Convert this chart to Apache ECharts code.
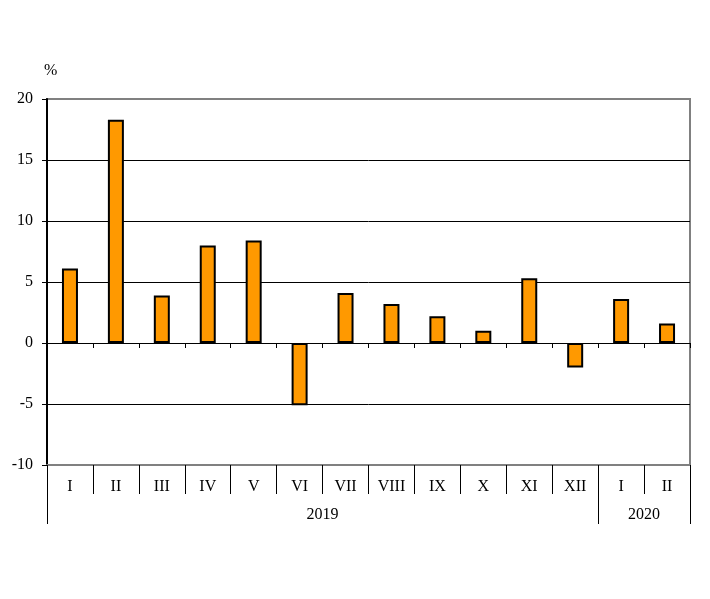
<!DOCTYPE html>
<html>
<head>
<meta charset="utf-8">
<script src="https://cdn.jsdelivr.net/npm/echarts@6/dist/echarts.min.js"></script>
<style>html,body{margin:0;padding:0;background:#fff;}#c{width:710px;height:599px;}</style>
</head>
<body>
<div id="c"></div>
<script>
var months = ['I','II','III','IV','V','VI','VII','VIII','IX','X','XI','XII','I','II'];
var values = [6.1, 18.3, 3.9, 8.0, 8.4, -5.1, 4.1, 3.2, 2.2, 1.0, 5.3, -2.0, 3.6, 1.6];
var years = ['2019', '2020'];
var yearSpans = [12, 2];   // number of months in each year group
var unitLabel = '%';

var boundaries = [0];
var yearCenters = [];
var acc = 0;
yearSpans.forEach(function (s) { yearCenters.push(acc + s / 2); acc += s; boundaries.push(acc); });

var font = 'Liberation Serif';
var chart = echarts.init(document.getElementById('c'));
chart.setOption({
  animation: false,
  backgroundColor: '#fff',
  grid: { left: 47, right: 20, top: 99, bottom: 134, show: true, borderColor: '#808080', borderWidth: 2, backgroundColor: 'transparent' },
  graphic: [{ type: 'text', left: 44, top: 63, style: { text: unitLabel, font: '16px "Liberation Serif"', fill: '#000' } }],
  xAxis: [
    {
      type: 'category', data: months, position: 'bottom',
      axisLine: { onZero: false, lineStyle: { color: '#808080', width: 2 } },
      axisTick: { show: true, length: 29, alignWithLabel: false, lineStyle: { color: '#000' } },
      axisLabel: { margin: 14, color: '#000', fontFamily: font, fontSize: 16, interval: 0 },
      splitLine: { show: false }
    },
    {
      type: 'category', data: months, position: 'bottom',
      axisLine: { onZero: true, onZeroAxisIndex: 0, lineStyle: { color: '#000', width: 1 } },
      axisTick: { show: true, length: 5, alignWithLabel: false, lineStyle: { color: '#000' } },
      axisLabel: { show: false },
      splitLine: { show: false }
    },
    {
      type: 'value', position: 'bottom', offset: 29, min: 0, max: months.length,
      axisLine: { show: false, onZero: false },
      axisTick: { show: true, length: 30, customValues: boundaries, lineStyle: { color: '#000' } },
      axisLabel: {
        customValues: yearCenters, margin: 13, color: '#000', fontFamily: font, fontSize: 16,
        formatter: function (v) { var i = yearCenters.indexOf(v); return i >= 0 ? years[i] : ''; }
      },
      splitLine: { show: false }
    }
  ],
  yAxis: {
    type: 'value', min: -10, max: 20, interval: 5,
    axisLine: { show: true, lineStyle: { color: '#000', width: 2 } },
    axisTick: { show: true, length: 5, lineStyle: { color: '#000' } },
    axisLabel: { margin: 14, color: '#000', fontFamily: font, fontSize: 16 },
    splitLine: { show: true, showMinLine: false, showMaxLine: false, lineStyle: { color: '#000', width: 1 } }
  },
  series: [{
    type: 'bar', data: values, xAxisIndex: 0, barWidth: 16,
    itemStyle: { color: '#ff9900', borderColor: '#000', borderWidth: 2 }
  }]
});
</script>
</body>
</html>
